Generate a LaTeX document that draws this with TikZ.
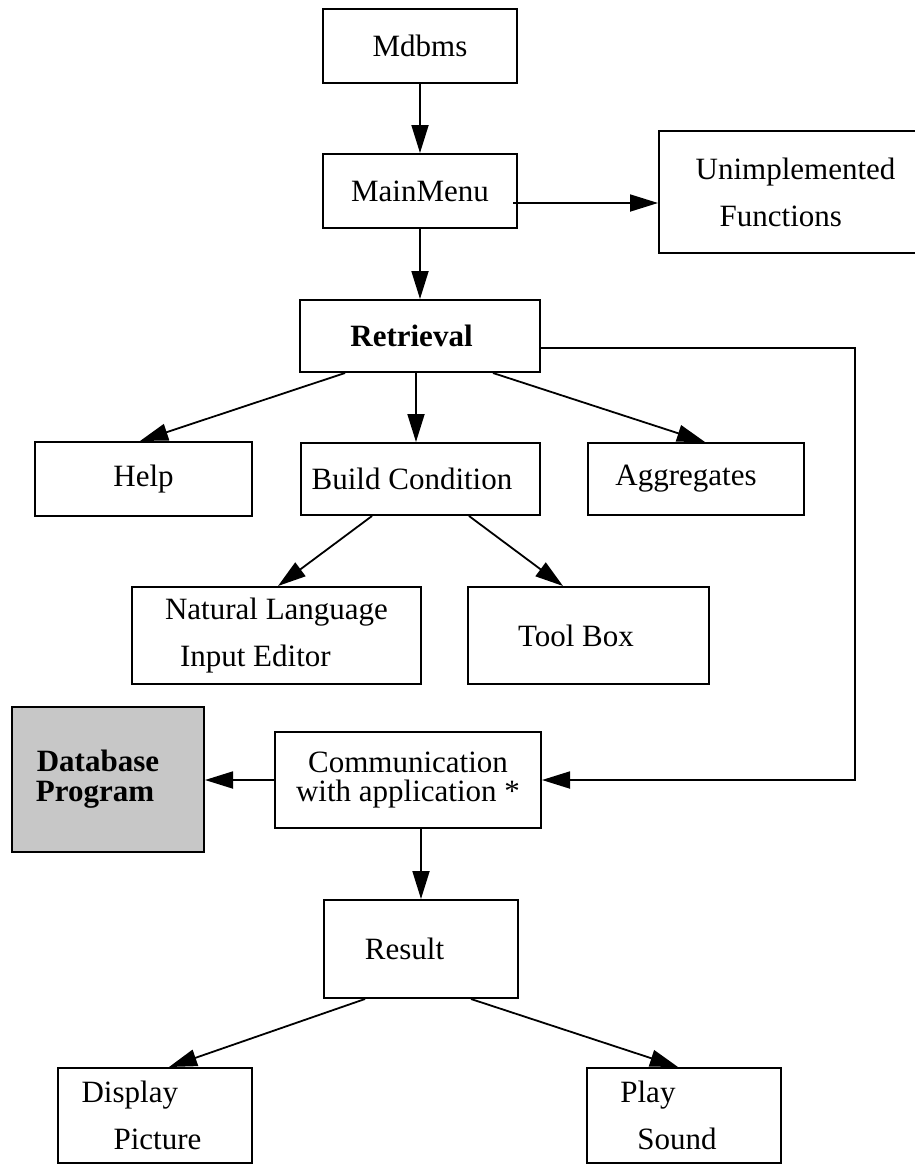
\documentclass[tikz,border=0pt]{standalone}
\usepackage{fontspec}
\setmainfont{Liberation Serif}
\usetikzlibrary{arrows.meta}
\tikzset{
    flow-box/.style = {draw, line width=2pt, rectangle, inner sep=0pt, minimum width=194pt, minimum height=74pt, align=center, font=\fontsize{31}{29}\selectfont},
    loose-lines/.style = {font=\fontsize{31}{47}\selectfont},
    shaded-box/.style = {fill=black!22, font=\fontsize{31}{30}\selectfont\bfseries},
    flow-arrow/.style = {line width=1.8pt, -{Triangle[length=28pt,width=17pt]}},
}

\begin{document}
\begin{tikzpicture}[x=1pt, y=-1pt]
\useasboundingbox (0,0) rectangle (914,1165);
\node[flow-box] (mdbms) at (420,45.5) {Mdbms};
\node[flow-box] (mainmenu) at (420,191) {MainMenu};
\node[flow-box, loose-lines, align=left, minimum width=273pt, minimum height=122pt] (unimplemented) at (795.5,192) {Unimplemented\\\kern24pt Functions};
\node[flow-box, minimum width=240pt, minimum height=72pt, font=\fontsize{31}{29}\selectfont\bfseries] (retrieval) at (420,336) {Retrieval\kern17pt};
\node[flow-box, minimum width=217pt] (help) at (143.5,479) {Help};
\node[flow-box, minimum width=239pt, minimum height=72pt] (build) at (420.5,479) {Build Condition\kern17pt};
\node[flow-box, minimum width=216pt, minimum height=72pt] (aggregates) at (696,479) {Aggregates\kern20pt};
\node[flow-box, loose-lines, align=left, minimum width=289pt, minimum height=97pt] (natlang) at (276.5,635.5) {Natural Language\\\kern15pt Input Editor};
\node[flow-box, minimum width=241pt, minimum height=97pt] (toolbox) at (588.5,635.5) {Tool Box\kern25pt};
\node[flow-box, shaded-box, minimum width=192pt, minimum height=145pt] (database) at (108,779.5) {Database\kern20pt\\Program\kern26pt};
\node[flow-box, minimum width=266pt, minimum height=96pt] (comm) at (408,780) {Communication\\with application *};
\node[flow-box, minimum height=98pt] (result) at (421,949) {Result\kern33pt};
\node[flow-box, loose-lines, align=left, minimum height=95pt] (display) at (155,1115.5) {Display\\\kern32pt Picture\kern27pt};
\node[flow-box, loose-lines, align=left, minimum height=95pt] (play) at (684,1115.5) {Play\\\kern17pt Sound\kern31pt};

\draw[flow-arrow] (mdbms) -- (mainmenu);
\draw[flow-arrow] ([xshift=-5pt,yshift=-12pt]mainmenu.east) -- ([yshift=-12pt]mainmenu.east -| unimplemented.west);
\draw[flow-arrow] (mainmenu) -- (retrieval);
\draw[flow-arrow] ([xshift=-75pt]retrieval.south) -- ([xshift=-3.5pt]help.north);
\draw[flow-arrow] ([xshift=-4pt]retrieval.south) -- ([xshift=-4.5pt]build.north);
\draw[flow-arrow] ([xshift=73pt]retrieval.south) -- ([xshift=9pt]aggregates.north);
\draw[flow-arrow] ([xshift=-48.5pt]build.south) -- ([xshift=1.5pt]natlang.north);
\draw[flow-arrow] ([xshift=48.5pt]build.south) -- ([xshift=-25.5pt]toolbox.north);
\draw[flow-arrow] ([yshift=-12pt]retrieval.east) -- ++(314,0) |- (comm.east);
\draw[flow-arrow] (comm.west) -- (comm.west -| database.east);
\draw[flow-arrow] (comm.south -| result.north) -- (result.north);
\draw[flow-arrow] ([xshift=-56pt]result.south) -- ([xshift=14pt]display.north);
\draw[flow-arrow] ([xshift=50pt]result.south) -- ([xshift=-6pt]play.north);
\end{tikzpicture}
\end{document}
